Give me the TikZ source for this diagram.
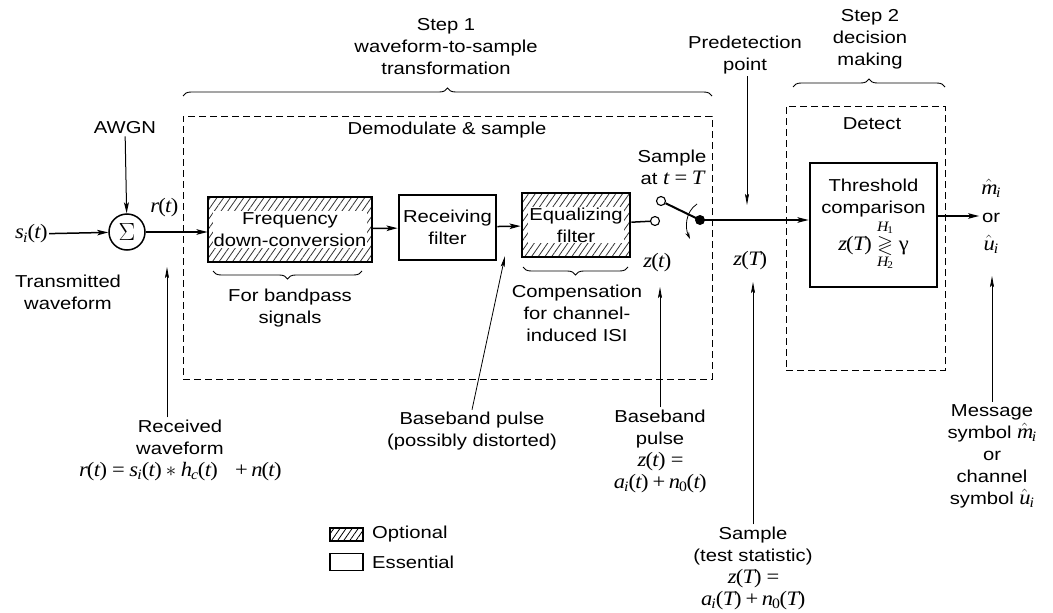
\documentclass[tikz,border=0pt]{standalone}
\usepackage{amssymb}
\usepackage[no-math]{fontspec}
\setmainfont[FakeStretch=1.17]{Liberation Sans}
\newfontfamily\mathletters[NFSSFamily=lserif, FakeStretch=1.1]{Liberation Serif}
\DeclareSymbolFont{letters}{TU}{lserif}{m}{it}
\DeclareSymbolFont{serifup}{TU}{lserif}{m}{n}
\DeclareMathSymbol{(}{\mathopen}{serifup}{`(}
\DeclareMathSymbol{)}{\mathclose}{serifup}{`)}
\DeclareMathSymbol{=}{\mathrel}{serifup}{`=}
\DeclareMathSymbol{+}{\mathbin}{serifup}{`+}
\DeclareMathSymbol{0}{\mathalpha}{serifup}{`0}
\DeclareMathSymbol{1}{\mathalpha}{serifup}{`1}
\DeclareMathSymbol{2}{\mathalpha}{serifup}{`2}
\usetikzlibrary{arrows.meta,decorations.pathreplacing,patterns.meta}
% formulas are set a little larger than the sans labels
\newcommand\mth[1]{{\fontsize{20.5}{22}\selectfont$#1$}}

\tikzset{
  sig/.style={line width=1.5pt, -{Stealth[length=11pt,width=5.5pt,inset=2.5pt]}},
  ann/.style={line width=0.8pt, -{Stealth[length=11pt,width=4pt,inset=2pt]}},
  blockbox/.style={draw, line width=2.8pt, inner sep=0pt, align=center},
  optbox/.style={blockbox, pattern={Lines[angle=55,distance=5.5pt,line width=0.8pt]}, pattern color=black!80},
  whitebg/.style={fill=white, inner sep=1pt, align=center},
  txt/.style={align=center, inner sep=2pt},
  stage/.style={draw, line width=0.8pt, dash pattern=on 7pt off 4pt, inner sep=0pt},
  bracetop/.style={decorate, decoration={brace, amplitude=8pt}, line width=0.9pt},
  bracebot/.style={decorate, decoration={brace, amplitude=8pt, mirror}, line width=0.9pt},
  contact/.style={circle, draw, line width=1.1pt, fill=white, minimum size=9pt, inner sep=0pt},
  pivotdot/.style={circle, fill, minimum size=10pt, inner sep=0pt},
  legbox/.style={draw, line width=1.1pt, inner sep=0pt, minimum width=33pt},
}

\begin{document}
\fontsize{17.28}{22}\selectfont
\begin{tikzpicture}[x=1pt, y=-1pt, font=\fontsize{17.28}{22}\selectfont]
  \fill[white] (0,0) rectangle (1053,613);
  \useasboundingbox (0,0) rectangle (1053,613);

  % stage frames and their headings
  \node[stage, minimum width=529pt, minimum height=263pt] (demod) at (447.5,247.5) {};
  \node[stage, minimum width=159pt, minimum height=264pt] (detect) at (865.5,238) {};
  \node[txt] (demodlbl) at (447,130) {Demodulate \& sample};
  \node[txt] (detectlbl) at (872,124) {Detect};

  \draw[bracetop] (183,96) -- (712,96);
  \draw[bracetop] (793,87) -- (945,87);
  \node[txt] (step1) at (446,47) {Step 1\\waveform-to-sample\\transformation};
  \node[txt] (step2) at (870,39) {Step 2\\decision\\making};
  \node[txt] (predet) at (745,55) {Predetection\\point};

  % input and noise summation
  \node[txt] (si) at (31,234) {\mth{s_i(t)}};
  \node[circle, draw, line width=1.5pt, minimum size=36pt, inner sep=0pt] (sum) at (127,232)
    {\fontsize{27}{27}\selectfont$\Sigma$};
  \node[txt] (awgn) at (125,128) {AWGN};
  \node[txt] (rt) at (164,208) {\mth{r(t)}};
  \node[txt] (transmitted) at (68,292) {Transmitted\\waveform};

  % processing blocks
  \node[optbox, minimum width=164pt, minimum height=65pt] (freq) at (290,229.5) {};
  \node[whitebg] (freqtxt) at (freq) {Frequency\\down-conversion};
  \node[blockbox, minimum width=97pt, minimum height=65pt] (recv) at (447.5,227.5) {Receiving\\filter};
  \node[optbox, minimum width=108pt, minimum height=64pt] (eq) at (576,225) {};
  \node[whitebg] (eqtxt) at (eq) {Equalizing\\filter};
  \node[blockbox, minimum width=127pt, minimum height=124pt] (thresh) at (873.5,225)
    {Threshold\\comparison\\[2pt]\mth{z(T)\mathrel{\mathop{\gtrless}\limits^{H_1}_{H_2}}\mbox{\mathletters γ}}};

  % sampling switch
  \node[contact] (cup) at (661,201) {};
  \node[contact] (clow) at (655,221) {};
  \node[pivotdot] (pivot) at (700,220) {};
  \draw[line width=2pt] (pivot.center) -- (cup);
  \draw[line width=0.8pt, -{Stealth[length=7pt,width=4pt]}]
    ([shift={(-3,-16)}]pivot.center) .. controls ([shift={(-15,-8)}]pivot.center)
    and ([shift={(-15,8)}]pivot.center) .. ([shift={(-10,19)}]pivot.center);
  \node[txt] (sampleT) at (672,167) {Sample\\at \mth{t=T}};
  \node[txt] (zt) at (657,263) {\mth{z(t)}};
  \node[txt] (zT) at (750,261) {\mth{z(T)}};

  % output
  \node[txt] (outlbl) at (991,216) {\mth{\hat{m}_i}\\[6pt]or\\[6pt]\mth{\hat{u}_i}};

  % signal path
  \draw[sig] (si) -- (sum);
  \draw[line width=1pt, -{Stealth[length=11pt,width=5pt,inset=2.5pt]}] (awgn) -- (sum);
  \draw[sig] (sum.east) -- (sum.east -| freq.west);
  \draw[sig] (freq) -- (recv);
  \draw[sig] (recv) -- (eq);
  \draw[line width=1.5pt] (eq) -- (clow);
  \draw[sig] (pivot.center) -- (pivot -| thresh.west);
  \draw[sig] (thresh.east |- outlbl) -- (outlbl.west |- outlbl);

  % braces under blocks
  \draw[bracebot] (213,271) -- (362,271);
  \draw[bracebot] (523,267) -- (628,267);
  \node[txt] (bandpass) at (290,308) {For bandpass\\signals};
  \node[txt] (compens) at (577,313) {Compensation\\for channel-\\induced ISI};

  % annotations below
  \coordinate (predetpt) at (747,205);
  \coordinate (recvpt) at (167,267);
  \coordinate (bbdistpt) at (505,256);
  \coordinate (bbpulsept) at (660,287);
  \coordinate (samplept) at (753,282);
  \coordinate (msgpt) at (992,276);

  \node[txt] (received) at (180,450) {Received\\waveform\\\mth{r(t) = s_i(t) * h_c(t)\ \ + n(t)}};
  \node[txt] (bbdist) at (472,431) {Baseband pulse\\(possibly distorted)};
  \node[txt] (bbpulse) at (660,451) {Baseband\\pulse\\\mth{z(t) =}\\\mth{a_i(t) + n_0(t)}};
  \node[txt] (sampleTS) at (753,568) {Sample\\(test statistic)\\\mth{z(T) =}\\\mth{a_i(T) + n_0(T)}};
  \node[txt] (message) at (992,456) {Message\\symbol \mth{\hat{m}_i}\\or\\channel\\symbol \mth{\hat{u}_i}};

  \draw[ann] (predetpt |- predet.south) -- (predetpt);
  \draw[ann] (recvpt |- received.north) -- (recvpt);
  \draw[ann] (bbdist.north) -- (bbdistpt);
  \draw[ann] (bbpulsept |- bbpulse.north) -- (bbpulsept);
  \draw[ann] (samplept |- sampleTS.north) -- (samplept);
  \draw[ann] (msgpt |- message.north) -- (msgpt);

  % legend
  \node[legbox, minimum height=13pt, pattern={Lines[angle=55,distance=5pt,line width=0.8pt]}] (legopt) at (346.5,534.5) {};
  \node[legbox, minimum height=17pt] (legess) at (346.5,562) {};
  \node[anchor=west, inner sep=0pt] (legopttxt) at (372,534.5) {Optional};
  \node[anchor=west, inner sep=0pt] (legesstxt) at (372,562) {Essential};
\end{tikzpicture}
\end{document}
